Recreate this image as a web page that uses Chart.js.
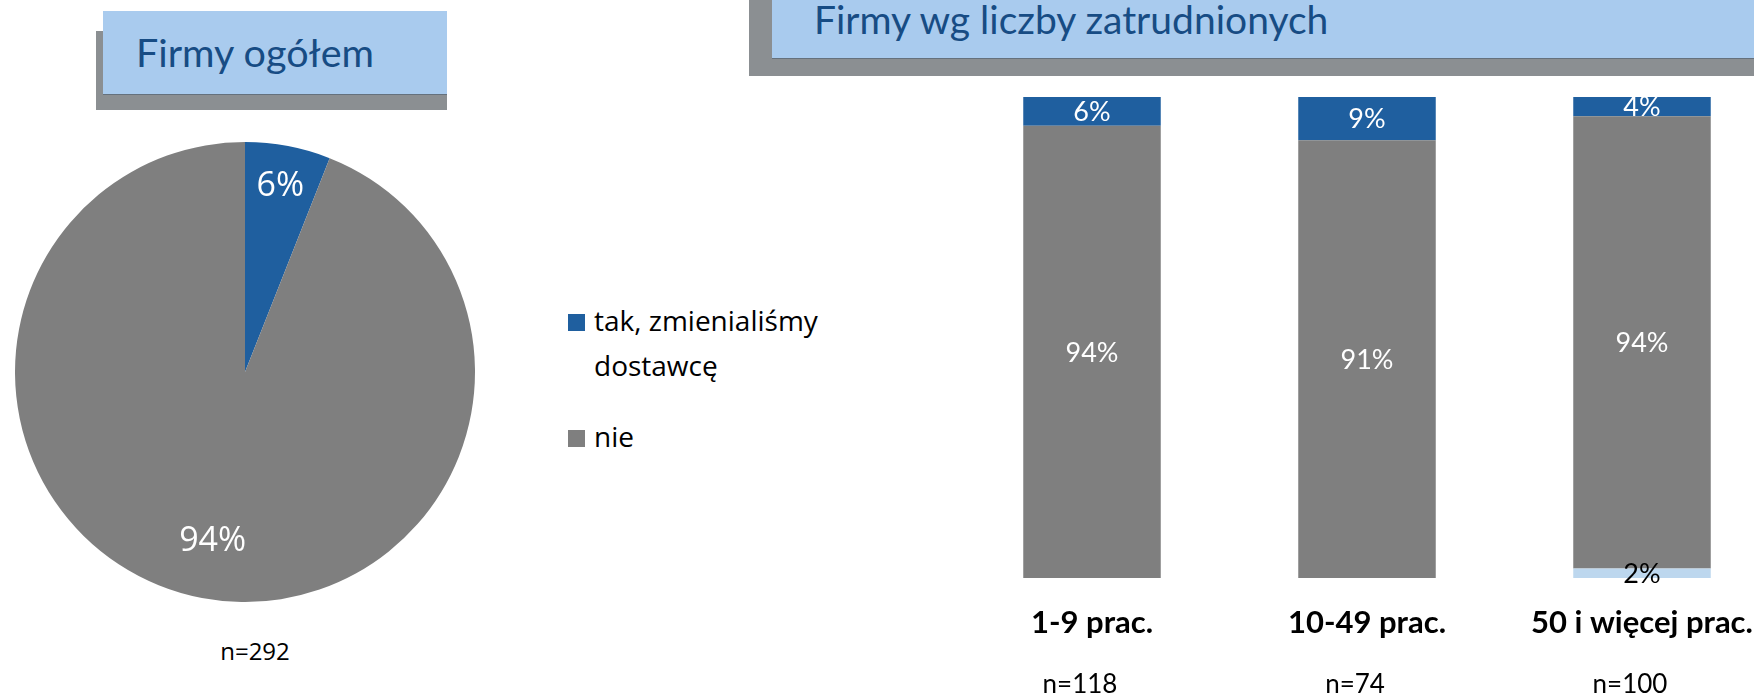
<!DOCTYPE html>
<html>
<head>
<meta charset="utf-8">
<script src="https://cdn.jsdelivr.net/npm/chart.js@4.4.1/dist/chart.umd.min.js"></script>
<style>
  body { margin: 0; width: 1754px; height: 696px; overflow: hidden; background: #fff; position: relative; }
  .abs { position: absolute; }
  .shade { background: #8b8f92; }
  .head { background: #a9cbee; border-bottom: 1px solid #65717d; box-sizing: border-box; }
  .title { font-family: Lato, sans-serif; color: #174c84; white-space: nowrap; }
  .seg { font-family: "Open Sans", sans-serif; color: #000; white-space: nowrap; }
  .sw { width: 17px; height: 17px; }
</style>
</head>
<body>
<div class="abs shade" style="left:96px;top:31px;width:351px;height:79px"></div>
<div class="abs head" style="left:103px;top:11px;width:344px;height:84px"></div>
<div class="abs title" style="left:136px;top:52px;font-size:39.5px;line-height:0;">Firmy ogółem</div>

<div class="abs shade" style="left:749px;top:0;width:1005px;height:76px"></div>
<div class="abs head" style="left:772px;top:0;width:982px;height:59px"></div>
<div class="abs title" style="left:814px;top:19px;font-size:39px;line-height:0;">Firmy wg liczby zatrudnionych</div>

<canvas id="pie" class="abs" width="460" height="460" style="left:15px;top:142px"></canvas>
<div id="pieN" class="abs seg" style="left:205px;top:651px;width:100px;text-align:center;font-size:24px;line-height:0;"></div>
<div id="legend" class="abs" style="left:568px;top:300px"></div>

<canvas id="bars" class="abs" width="900" height="616" style="left:900px;top:80px"></canvas>

<script>
const pieLabels = ['tak, zmienialiśmy dostawcę', 'nie'];
const pieValues = [6, 94];
const pieN = 'n=292';

const groups = ['1-9 prac.', '10-49 prac.', '50 i więcej prac.'];
const groupN = ['n=118', 'n=74', 'n=100'];
const takValues = [6, 9, 4];
const nieValues = [94, 91, 94];
const trudnoValues = [0, 0, 2];

const BLUE = '#1f5f9f';
const GREY = '#7f7f7f';
const LIGHT = '#bdd7ee';

// legend (html, two entries like the original)
const legendLines = [['tak, zmienialiśmy', 'dostawcę'], ['nie']];
const legendColors = [BLUE, GREY];
const legendTops = [14, 130];
const legend = document.getElementById('legend');
legendLines.forEach((lines, i) => {
    const sw = document.createElement('div');
    sw.className = 'abs sw';
    sw.style.left = '0px';
    sw.style.top = legendTops[i] + 'px';
    sw.style.background = legendColors[i];
    legend.appendChild(sw);
    const tx = document.createElement('div');
    tx.className = 'abs seg';
    tx.style.left = '26px';
    tx.style.top = (legendTops[i] - 16) + 'px';
    tx.style.fontSize = '28px';
    tx.style.lineHeight = '45px';
    tx.innerHTML = lines.join('<br>');
    legend.appendChild(tx);
});
document.getElementById('pieN').textContent = pieN;

const pieLabelPlugin = {
    id: 'pieLabels',
    afterDatasetsDraw(chart, args, opts) {
        const ctx = chart.ctx;
        const meta = chart.getDatasetMeta(0);
        ctx.save();
        ctx.font = opts.font;
        ctx.fillStyle = '#fff';
        ctx.textAlign = 'center';
        ctx.textBaseline = 'middle';
        meta.data.forEach((arc, i) => {
            const p = arc.getProps(['x', 'y', 'startAngle', 'endAngle', 'outerRadius']);
            const mid = (p.startAngle + p.endAngle) / 2;
            const k = opts.radius[i];
            ctx.fillText(pieValues[i] + '%', p.x + Math.cos(mid) * p.outerRadius * k, p.y + Math.sin(mid) * p.outerRadius * k);
        });
        ctx.restore();
    }
};

new Chart(document.getElementById('pie'), {
    type: 'pie',
    data: {
        labels: pieLabels,
        datasets: [{
            data: pieValues,
            backgroundColor: [BLUE, GREY],
            borderWidth: 0,
        }]
    },
    options: {
        responsive: false,
        animation: false,
        devicePixelRatio: 1,
        layout: { padding: 0 },
        plugins: {
            legend: { display: false },
            tooltip: { enabled: false },
            pieLabels: { font: '34px "Open Sans"', radius: [0.82, 0.75] }
        }
    },
    plugins: [pieLabelPlugin]
});

const barLabelPlugin = {
    id: 'barLabels',
    afterDatasetsDraw(chart, args, opts) {
        const ctx = chart.ctx;
        ctx.save();
        ctx.font = opts.font;
        ctx.textAlign = 'center';
        ctx.textBaseline = 'middle';
        chart.data.datasets.forEach((ds, di) => {
            const meta = chart.getDatasetMeta(di);
            ctx.fillStyle = ds.labelColor;
            meta.data.forEach((bar, i) => {
                const v = ds.data[i];
                if (!v) return;
                ctx.fillText(v + '%', bar.x, (bar.y + bar.base) / 2 + 1);
            });
        });
        ctx.restore();
    }
};

new Chart(document.getElementById('bars'), {
    type: 'bar',
    data: {
        labels: groups,
        datasets: [
            { label: 'trudno powiedzieć', data: trudnoValues, backgroundColor: LIGHT, labelColor: '#000' },
            { label: 'nie', data: nieValues, backgroundColor: GREY, labelColor: '#fff' },
            { label: 'tak, zmienialiśmy dostawcę', data: takValues, backgroundColor: BLUE, labelColor: '#fff' },
        ]
    },
    options: {
        responsive: false,
        animation: false,
        devicePixelRatio: 1,
        layout: { padding: { top: 17, left: 54.5, right: 20.5, bottom: 0 } },
        datasets: { bar: { barPercentage: 0.5, categoryPercentage: 1, borderWidth: 0 } },
        plugins: {
            legend: { display: false },
            tooltip: { enabled: false },
            barLabels: { font: '27px Lato' }
        },
        scales: {
            x: {
                stacked: true,
                grid: { display: false, drawTicks: false },
                border: { display: false },
                ticks: { color: '#000', padding: 26, font: { family: 'Lato', size: 31, weight: 'bold' } },
                afterFit(s) { s.height = 60; }
            },
            x2: {
                type: 'category',
                labels: groupN,
                position: 'bottom',
                grid: { display: false, drawTicks: false },
                border: { display: false },
                ticks: { color: '#000', padding: 31, labelOffset: -12, font: { family: 'Lato', size: 26 } },
                afterFit(s) { s.height = 58; }
            },
            y: {
                stacked: true,
                min: 0,
                max: 100,
                display: false
            }
        }
    },
    plugins: [barLabelPlugin]
});
</script>
</body>
</html>
